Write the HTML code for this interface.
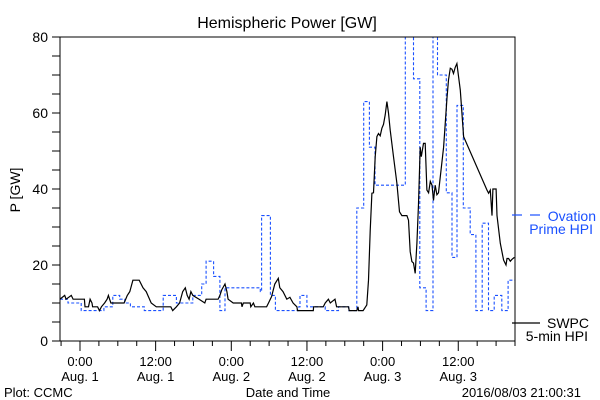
<!DOCTYPE html>
<html><head><meta charset="utf-8"><style>
html,body{margin:0;padding:0;background:#fff;}
svg{display:block;font-family:"Liberation Sans",sans-serif;}
</style></head><body>
<svg id="chart" width="600" height="400" viewBox="0 0 600 400" xmlns="http://www.w3.org/2000/svg">
<rect x="0" y="0" width="600" height="400" fill="#fff"/>
<text x="287" y="28" font-size="16" text-anchor="middle">Hemispheric Power [GW]</text>
<text transform="translate(20,190) rotate(-90)" font-size="14" text-anchor="middle">P [GW]</text>
<text x="288" y="397" font-size="13" text-anchor="middle">Date and Time</text>
<text x="4" y="397" font-size="13">Plot: CCMC</text>
<text x="581" y="397" font-size="13" text-anchor="end">2016/08/03 21:00:31</text>
<g id="axes"></g>
<g id="series"></g>
<rect x="60" y="37" width="455" height="304" fill="none" stroke="#000" stroke-width="1"/>
<g>
<line x1="512" y1="215" x2="522" y2="215" stroke="#1a50ff" stroke-width="1.2"/>
<line x1="530" y1="215" x2="540" y2="215" stroke="#1a50ff" stroke-width="1.2"/>
<text x="596" y="221" font-size="14" fill="#1a50ff" text-anchor="end">Ovation</text>
<text x="593" y="234" font-size="14" fill="#1a50ff" text-anchor="end">Prime HPI</text>
<line x1="512" y1="323" x2="540" y2="323" stroke="#000" stroke-width="1.2"/>
<text x="589" y="328" font-size="14" text-anchor="end">SWPC</text>
<text x="588" y="341" font-size="14" text-anchor="end">5-min HPI</text>
</g>
</svg>
<script>
const yTicks=[0,20,40,60,80];
const xTickHours=[0,12,24,36,48,60];
const xTickTimes=["0:00","12:00","0:00","12:00","0:00","12:00"];
const xTickDays=["Aug. 1","Aug. 1","Aug. 2","Aug. 2","Aug. 3","Aug. 3"];
const swpcHours=[-3.17,-2.43,-2.2,-1.38,-1.1,0.7,0.8,1.35,1.6,1.9,2.0,2.8,3.1,3.4,3.9,4.3,4.5,4.7,4.9,7.0,7.5,7.9,8.4,9.4,10.0,10.5,11.3,12.1,14.4,14.7,15.3,15.8,16.3,16.7,17.0,17.3,17.6,17.9,18.9,19.8,20.0,21.9,22.2,22.5,23.0,23.3,23.5,24.3,25.6,25.7,25.9,27.0,27.1,27.5,27.75,29.6,29.9,30.4,30.9,31.45,31.7,32.2,32.8,33.3,33.8,34.4,34.5,37.0,37.05,38.6,38.9,39.4,39.7,40.45,40.7,42.6,42.7,43.9,44.1,44.2,44.9,45.5,45.76,46.03,46.3,46.56,46.83,47.1,47.35,47.62,47.89,48.14,48.41,48.68,48.94,49.21,49.73,50.27,50.68,51.06,51.86,52.11,52.38,52.65,52.9,53.17,53.44,53.7,53.97,54.13,54.49,54.76,55.03,55.29,55.56,55.83,56.08,56.35,56.62,56.87,57.14,57.67,58.21,58.46,58.73,59.0,59.25,59.52,59.79,60.05,60.32,60.84,64.56,64.81,65.08,65.35,65.5,66.0,66.14,66.67,67.19,67.57,67.73,67.98,68.25,68.52,68.9];
const swpcValues=[11,12,11,12,11,11,9,9,11,10,9,9,8,9,10,11,12,11,10,10,12,13,16,16,14,13,10,9,9,8,9,10,13,14,12,11,13,12,11,10,11,11,12,13.5,15,13,11,10,10,9,10,10,9,10,9,9,10,11.7,15,16.5,14,13,11,11.5,10,9,8,8,9,9,10,11,10,11,9,9,8,8,9,8,8,9.5,16,29,38.9,39,48.5,53.8,54.6,54,56,57,59.5,63,60,55.5,48.5,41.5,34,33,33,31.8,23.5,20.9,20.5,17.8,25.7,36,51,48.5,52,52,39.7,39,42,41,37,41,38.5,39,43,51,64,68.7,71.8,71.5,70.4,72,73,69.5,66,53.8,39.7,38.9,39.7,33,40,40,33,25.7,21.3,20,21.7,21.7,21,21.5,22];
const ovationStartHours=[-3.17,-1.9,0.2,3.8,5.2,6.3,7.1,8.0,10.2,13.2,15.3,17.9,19.3,20.0,21.2,22.2,23.0,28.6,28.8,30.2,31.0,34.7,34.9,36.0,38.9,41.0,42.6,43.9,45.0,45.9,46.8,51.6,52.9,53.9,54.9,56.0,56.7,58.1,59.0,59.8,60.8,61.9,62.8,63.8,64.8,65.7,66.9,67.9];
const ovationValues=[11,10,8,9,12,11,10,9,8,12,10,12,15,21,17,8,14,13,33,12,8,9,12,9,8,9,8,35,63,51,41,95,69,14,8,95,70,39,22,62,35,28,8,31,8,12,8,16];
const ovationEndHour=69;

const X0=60,X1=515,Y0=341,Y1=37,HMIN=-3.17,HMAX=69,VMAX=80;
function xs(h){return X0+(h-HMIN)/(HMAX-HMIN)*(X1-X0);}
function ys(v){return Y0-v/VMAX*(Y0-Y1);}
const NS="http://www.w3.org/2000/svg";
function mk(tag,attrs,parent){const e=document.createElementNS(NS,tag);for(const k in attrs)e.setAttribute(k,attrs[k]);parent.appendChild(e);return e;}
const axes=document.getElementById('axes'),series=document.getElementById('series');
for(let v=0;v<=80;v+=5){
  const l=mk('line',{x1:52,x2:60,y1:ys(v),y2:ys(v),stroke:'#000','stroke-width':1},axes);
  
  
}
yTicks.forEach(v=>{
  const t=mk('text',{x:48,y:ys(v)+5,'font-size':14,'text-anchor':'end'},axes);
  t.textContent=String(v);
  
  
});
for(let h=-3;h<=69;h+=3){
  const major=(h%12===0);
  const l=mk('line',{x1:xs(h),x2:xs(h),y1:341,y2:major?351:346,stroke:'#000','stroke-width':1},axes);
  
  
}
xTickHours.forEach((h,i)=>{
  const t=mk('text',{x:xs(h),y:366,'font-size':13,'text-anchor':'middle'},axes);
  t.textContent=xTickTimes[i];
  
  
  const d=mk('text',{x:xs(h),y:381,'font-size':13,'text-anchor':'middle'},axes);
  d.textContent=xTickDays[i];
  
  
});
const defs=mk('defs',{},series);
const cp=mk('clipPath',{id:'pc'},defs);
mk('rect',{x:X0,y:Y1,width:X1-X0,height:Y0-Y1},cp);
let d='';
ovationStartHours.forEach((h,i)=>{
  const end=i<ovationStartHours.length-1?ovationStartHours[i+1]:ovationEndHour;
  d+=(i===0?'M':'L')+xs(h).toFixed(1)+','+ys(ovationValues[i]).toFixed(1)+'L'+xs(end).toFixed(1)+','+ys(ovationValues[i]).toFixed(1);
});
const op=mk('path',{d:d,fill:'none',stroke:'#1a50ff','stroke-width':1.1,'stroke-dasharray':'3,2','clip-path':'url(#pc)'},series);


let d2='';
swpcHours.forEach((h,i)=>{d2+=(i===0?'M':'L')+xs(h).toFixed(1)+','+ys(swpcValues[i]).toFixed(1);});
const sp=mk('path',{d:d2,fill:'none',stroke:'#000','stroke-width':1.2,'clip-path':'url(#pc)'},series);


</script>
</body></html>
